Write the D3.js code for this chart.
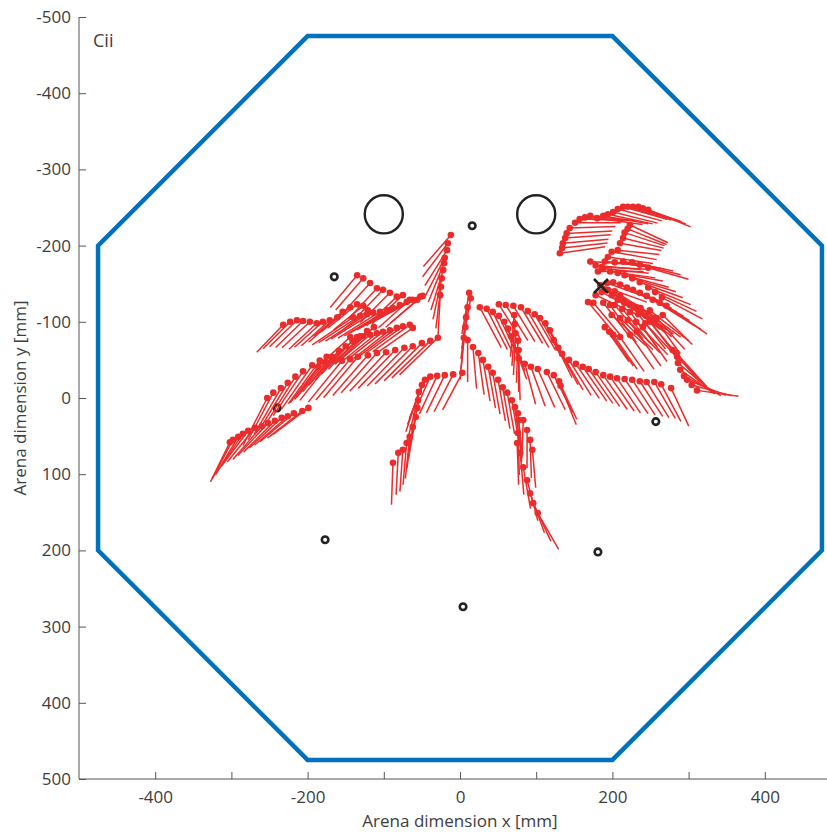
<!DOCTYPE html>
<html>
<head>
<meta charset="utf-8">
<script src="https://cdn.jsdelivr.net/npm/d3@7"></script>
<style>
  html, body { margin: 0; padding: 0; background: #fff; }
  svg { display: block; }
  text { font-family: "Open Sans", "Liberation Sans", sans-serif; fill: #3d3d3d; }
</style>
</head>
<body>
<svg id="chart" width="827" height="838"></svg>
<script>
// ---- axis ticks ----
const xTickValues = [-400, -300, -200, -100, 0, 100, 200, 300, 400];
const xTickLabelled = [-400, -200, 0, 200, 400];
const yTickValues = [-500, -400, -300, -200, -100, 0, 100, 200, 300, 400, 500];

// ---- arena outline (octagon vertices, mm) ----
const arenaX = [-200, 200, 475, 475, 200, -200, -475, -475];
const arenaY = [-475, -475, -200, 200, 475, 475, 200, -200];

// ---- fixed objects in the arena (mm) ----
const largeObjects = [[-100, -241], [100, -241]];
const largeRadius = 25;
const smallObjects = [[16, -226], [-165, -159], [-240, 13], [-177, 186], [4, 274], [181, 202], [257, 31]];
const smallRadius = 4.3;
const crossMark = [185, -147];

// ---- trajectories: [x mm, y mm, heading deg] ; heading measured with y pointing down ----
const trackA = [[-135,-161,130],[-127,-157,131],[-118,-151,132],[-109,-144,133],[-101,-142,134],[-92,-138,135],[-83,-133,136],[-75,-135,137],[-66,-129,138],[-56,-129,139],[-49,-134,140]];
const trackB = [[-232,-96,134],[-223,-100,135],[-214,-102,136],[-206,-101,136],[-197,-100,137],[-188,-98,137],[-180,-100,138],[-171,-102,138],[-161,-106,139],[-154,-113,140],[-144,-119,140],[-135,-123,141],[-127,-121,141],[-121,-115,142]];
const trackC = [[-140,-106,146],[-131,-108,147],[-122,-110,147],[-114,-112,148],[-105,-113,148],[-96,-115,149],[-88,-118,150],[-79,-122,150],[-70,-126,151],[-62,-129,151],[-52,-133,152]];
const trackD = [[-144,-80,138],[-135,-80,139],[-127,-81,139],[-118,-83,140],[-109,-85,141],[-101,-87,142],[-92,-89,142],[-83,-92,143],[-75,-94,144],[-66,-96,144],[-62,-92,145]];
const trackE = [[-29,-79,136],[-39,-75,136],[-50,-72,135],[-62,-68,135],[-73,-66,134],[-85,-63,134],[-97,-60,133],[-109,-59,132],[-121,-56,131],[-134,-54,130],[-144,-51,130],[-155,-49,129],[-167,-52,128],[-175,-54,127],[-184,-49,126],[-194,-43,125],[-206,-35,124],[-216,-28,122],[-226,-20,121],[-235,-13,120],[-245,-7,118],[-253,0,117]];
const trackE2 = [[-186,-41,128],[-177,-47,129],[-168,-54,130],[-159,-62,131],[-150,-68,132],[-141,-75,133],[-131,-81,134],[-122,-88,135],[-113,-93,136]];
const trackF = [[-199,13,143],[-207,17,142],[-218,20,140],[-226,24,139],[-234,26,137],[-243,30,135],[-252,33,133],[-260,37,131],[-269,39,129],[-278,43,127],[-285,47,124],[-291,51,121],[-298,55,118],[-302,58,116]];
const trackG = [[-12,-214,131],[-16,-203,127],[-17,-194,122],[-20,-184,117],[-21,-177,112],[-22,-168,107],[-24,-157,102],[-25,-146,97],[-26,-135,93]];
const trackH = [[12,-138,100],[14,-131,100],[10,-119,98],[8,-106,97],[7,-93,96],[5,-79,95],[10,-76,90],[17,-67,85],[24,-59,82],[30,-50,80],[37,-41,80],[43,-33,80],[50,-24,80],[56,-14,80],[62,-7,80],[68,3,80],[72,12,82],[76,20,84],[77,29,86],[76,46,88],[75,59,88],[79,72,85],[83,91,80],[88,108,75],[92,125,70],[96,138,65],[102,151,60]];
const trackH2 = [[83,29,92],[88,42,90],[92,55,88],[95,68,85]];
const trackI = [[3,-33,118],[-9,-31,117],[-20,-30,116],[-30,-29,115],[-39,-28,114],[-46,-24,112],[-50,-17,110],[-54,-8,108],[-55,3,105],[-56,13,102],[-58,25,100],[-62,38,98],[-66,51,96],[-70,59,95],[-75,68,94],[-81,72,93],[-88,85,92]];
const trackM1 = [[26,-119,62],[35,-117,63],[43,-113,64],[51,-108,65],[58,-100,66],[63,-91,68],[67,-81,70]];
const trackM2 = [[51,-123,58],[60,-122,58],[70,-121,59],[80,-119,59],[89,-114,60],[98,-110,60],[105,-105,61],[112,-98,62],[118,-89,63],[123,-76,64],[129,-66,62],[134,-58,60],[143,-50,58],[152,-45,56],[161,-41,55],[169,-38,55],[178,-34,55],[188,-30,55],[197,-28,55],[206,-26,56],[216,-25,56],[226,-24,57],[236,-22,57],[245,-21,58],[255,-21,60],[264,-18,62],[277,-13,65]];
const trackM3 = [[71,-109,95],[72,-97,94],[73,-85,93],[76,-75,92],[77,-63,90],[77,-52,88],[85,-45,75],[93,-41,70],[102,-38,66],[114,-34,64],[123,-30,63],[130,-22,65],[132,-16,68]];
const trackR1 = [[131,-190,-8],[134,-197,-6],[135,-203,-5],[138,-210,-4],[140,-216,-3],[144,-223,-2],[151,-230,0],[157,-235,2],[164,-237,4],[171,-239,6],[180,-236,8],[188,-239,10],[194,-241,12],[201,-244,14],[207,-248,15],[214,-251,16],[220,-251,17],[227,-251,18],[234,-251,19],[240,-249,20],[247,-247,22]];
const trackR2 = [[223,-227,25],[220,-222,22],[216,-217,18],[214,-210,14],[210,-203,10],[207,-194,6]];
const trackR3 = [[199,-192,10],[194,-185,8],[190,-179,5],[186,-172,3],[181,-166,0]];
const trackR4 = [[184,-148,20],[193,-151,20],[201,-152,22],[210,-149,24],[219,-145,25],[227,-142,27],[236,-138,28],[245,-134,30],[253,-129,32],[262,-125,33],[271,-121,35]];
const trackR5 = [[178,-135,25],[186,-139,28],[194,-142,30],[203,-140,32],[210,-134,35],[215,-126,37],[223,-122,38],[232,-119,40]];
const trackR6 = [[190,-93,55],[196,-87,55],[201,-83,55],[210,-80,55],[223,-83,55],[232,-87,55],[240,-93,55],[249,-100,50],[258,-105,48],[266,-109,45]];
const trackR7 = [[168,-126,50],[175,-125,50],[188,-125,52],[197,-122,55]];
const trackR8 = [[279,-63,50],[284,-59,48],[285,-54,45],[286,-46,40],[289,-37,35],[294,-29,28],[298,-24,22],[304,-17,15],[311,-10,8]];
const trackR9 = [[216,-161,15],[226,-157,17],[236,-152,20],[247,-145,22],[256,-139,25],[265,-132,28]];
const trackR10 = [[203,-178,8],[214,-179,10],[226,-178,12],[236,-175,14],[247,-171,16]];
const trackR11 = [[190,-142,28],[199,-135,30],[207,-129,32],[216,-125,33],[227,-121,35],[237,-118,36],[249,-115,38]];
const trackR12 = [[199,-109,42],[210,-105,44],[220,-102,45],[231,-100,46],[243,-98,47]];
const trackR13 = [[171,-179,4],[178,-174,5],[188,-170,6],[197,-166,8],[207,-164,10]];
const trackR14 = [[203,-122,50],[213,-117,51],[223,-113,52],[234,-110,52],[244,-108,53],[255,-105,54]];

// heading-vector length (mm) for each trajectory, in the same order
const tracks = [trackA, trackB, trackC, trackD, trackE, trackE2, trackF, trackG, trackH, trackH2, trackI,
                trackM1, trackM2, trackM3, trackR1, trackR2, trackR3, trackR4, trackR5, trackR6,
                trackR7, trackR8, trackR9, trackR10, trackR11, trackR12, trackR13, trackR14];
const vectorLengths = [55, 50, 65, 60, 70, 60, 58, 55, 55, 50, 55,
                       60, 55, 55, 60, 55, 60, 65, 60, 55,
                       60, 55, 60, 55, 65, 60, 60, 58];

// ---- drawing ----
const svg = d3.select("#chart");
const x = d3.scaleLinear().domain([-500, 500]).range([79, 841]);
const y = d3.scaleLinear().domain([-500, 500]).range([17, 779]);

const red = "#ec2b2b";
const blue = "#0072bd";
const ink = "#222222";
const tickFmt = d => String(d);

// arena wall
const octagon = arenaX.map((v, i) => [x(v), y(arenaY[i])]);
svg.append("path")
  .attr("d", d3.line()(octagon) + "Z")
  .attr("fill", "none")
  .attr("stroke", blue)
  .attr("stroke-width", 4.5)
  .attr("stroke-linejoin", "miter");

// objects
svg.selectAll("circle.large").data(largeObjects).join("circle")
  .attr("class", "large")
  .attr("cx", d => x(d[0])).attr("cy", d => y(d[1]))
  .attr("r", x(largeRadius) - x(0))
  .attr("fill", "none").attr("stroke", ink).attr("stroke-width", 2.4);

svg.selectAll("circle.small").data(smallObjects).join("circle")
  .attr("class", "small")
  .attr("cx", d => x(d[0])).attr("cy", d => y(d[1]))
  .attr("r", x(smallRadius) - x(0))
  .attr("fill", "none").attr("stroke", ink).attr("stroke-width", 2.6);

// trajectories: heading vectors then positions
const gTracks = svg.append("g");
tracks.forEach((trk, ti) => {
  const L = vectorLengths[ti];
  const g = gTracks.append("g");
  g.selectAll("line").data(trk).join("line")
    .attr("x1", d => x(d[0])).attr("y1", d => y(d[1]))
    .attr("x2", d => x(d[0] + L * Math.cos(d[2] * Math.PI / 180)))
    .attr("y2", d => y(d[1] + L * Math.sin(d[2] * Math.PI / 180)))
    .attr("stroke", red).attr("stroke-width", 1.5);
  g.selectAll("circle").data(trk).join("circle")
    .attr("cx", d => x(d[0])).attr("cy", d => y(d[1]))
    .attr("r", 3.3).attr("fill", red);
});

// cross marker
const cs = 7;
const cx0 = x(crossMark[0]), cy0 = y(crossMark[1]);
svg.append("path")
  .attr("d", `M${cx0 - cs},${cy0 - cs}L${cx0 + cs},${cy0 + cs}M${cx0 - cs},${cy0 + cs}L${cx0 + cs},${cy0 - cs}`)
  .attr("stroke", ink).attr("stroke-width", 2.6).attr("fill", "none");

// axes
const axisColor = "#555555";
const yAxis = svg.append("g").attr("transform", "translate(79,0)")
  .call(d3.axisLeft(y).tickValues(yTickValues).tickFormat(tickFmt)
    .tickSizeInner(-7).tickSizeOuter(0).tickPadding(8));
const xAxis = svg.append("g").attr("transform", "translate(0,779)")
  .call(d3.axisBottom(x).tickValues(xTickValues)
    .tickFormat(d => xTickLabelled.includes(d) ? tickFmt(d) : "")
    .tickSizeInner(-7).tickSizeOuter(0).tickPadding(12));
[yAxis, xAxis].forEach(a => {
  a.select(".domain").attr("stroke", axisColor).attr("stroke-width", 1);
  a.selectAll(".tick line").attr("stroke", axisColor).attr("stroke-width", 1);
  a.selectAll(".tick text").attr("font-size", 17).attr("fill", "#3d3d3d")
    .style("font-family", "'Open Sans', sans-serif");
});
xAxis.select(".domain").attr("d", "M79,0H841");
yAxis.select(".domain").attr("d", "M0,17V779");

// axis titles
svg.append("text")
  .attr("x", 460).attr("y", 827)
  .attr("text-anchor", "middle").attr("font-size", 17)
  .text("Arena dimension x [mm]");
svg.append("text")
  .attr("transform", "translate(26,398) rotate(-90)")
  .attr("text-anchor", "middle").attr("font-size", 17)
  .text("Arena dimension y [mm]");

// panel label
svg.append("text")
  .attr("x", 93).attr("y", 47)
  .attr("font-size", 18)
  .text("Cii");
</script>
</body>
</html>
